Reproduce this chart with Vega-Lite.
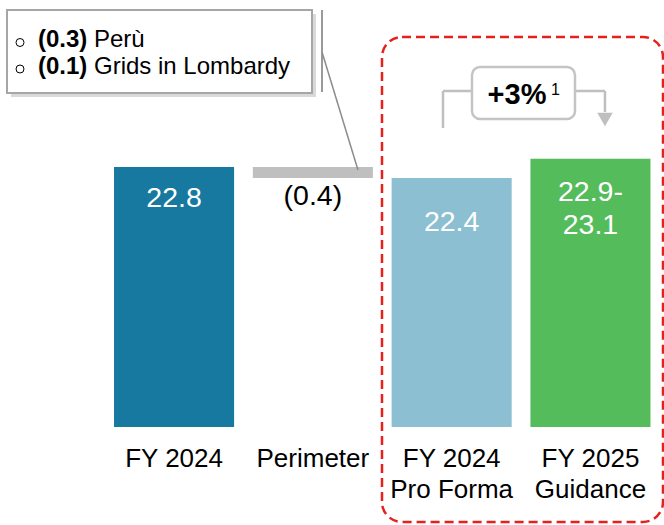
{
  "$schema": "https://vega.github.io/schema/vega-lite/v6.json",
  "width": 664,
  "height": 427,
  "autosize": {"type": "none"},
  "padding": {"left": 0, "right": 0, "top": 0, "bottom": 98},
  "background": "white",
  "config": {"view": {"stroke": null}, "font": "Liberation Sans"},
  "resolve": {"scale": {"x": "independent"}, "axis": {"x": "independent"}},
  "layer": [
    {
      "data": {"values": [
        {"cat": "FY 2024", "value": 22.8, "label": "22.8"},
        {"cat": "Perimeter", "value": 22.8, "end": 22.4, "label": "(0.4)"},
        {"cat": "FY 2024 Pro Forma", "value": 22.4, "label": "22.4"},
        {"cat": "FY 2025 Guidance", "value": 23.1, "low": 22.9, "label": "22.9-\n23.1"}
      ]},
      "encoding": {
        "x": {
          "field": "cat", "type": "nominal", "sort": null,
          "scale": {"domain": ["FY 2024", "Perimeter", "FY 2024 Pro Forma", "FY 2025 Guidance"], "paddingInner": 0.135, "paddingOuter": 0.4595, "align": 0.894},
          "axis": {
            "title": null, "domain": false, "ticks": false, "grid": false,
            "labelAngle": 0, "labelFontSize": 26, "labelColor": "#000000",
            "labelFont": "Liberation Sans", "labelPadding": 39,
            "labelBaseline": "alphabetic", "labelLineHeight": 31,
            "labelLimit": 0, "labelOverlap": false, "labelFlush": false,
            "labelExpr": "length(datum.label) > 9 ? [substring(datum.label, 0, 7), substring(datum.label, 8)] : datum.label"
          }
        }
      },
      "layer": [
        {
          "transform": [{"filter": "datum.end == null"}],
          "mark": {"type": "bar"},
          "encoding": {
            "y": {"field": "value", "type": "quantitative",
                  "scale": {"domain": [13.345, 28.872], "zero": false, "nice": false},
                  "axis": null},
            "y2": {"datum": 13.345},
            "color": {"field": "cat", "type": "nominal", "legend": null,
                      "scale": {"domain": ["FY 2024", "FY 2024 Pro Forma", "FY 2025 Guidance"],
                                "range": ["#1778a0", "#8bbfd1", "#55bc5c"]}}
          }
        },
        {
          "transform": [{"filter": "datum.end != null"}],
          "mark": {"type": "bar", "color": "#bfbfbf"},
          "encoding": {
            "y": {"field": "value", "type": "quantitative", "axis": null},
            "y2": {"field": "end"}
          }
        },
        {
          "transform": [{"filter": "datum.cat == 'FY 2024'"}],
          "mark": {"type": "text", "color": "white", "fontSize": 28.5, "baseline": "alphabetic", "dy": 40},
          "encoding": {"y": {"field": "value", "type": "quantitative", "axis": null}, "text": {"field": "label"}}
        },
        {
          "transform": [{"filter": "datum.cat == 'FY 2024 Pro Forma'"}],
          "mark": {"type": "text", "color": "white", "fontSize": 28.5, "baseline": "alphabetic", "dy": 53},
          "encoding": {"y": {"field": "value", "type": "quantitative", "axis": null}, "text": {"field": "label"}}
        },
        {
          "transform": [{"filter": "datum.cat == 'FY 2025 Guidance'"}],
          "mark": {"type": "text", "color": "white", "fontSize": 28.5, "baseline": "alphabetic", "dy": 42, "lineBreak": "\n", "lineHeight": 33},
          "encoding": {"y": {"field": "value", "type": "quantitative", "axis": null}, "text": {"field": "label"}}
        },
        {
          "transform": [{"filter": "datum.end != null"}],
          "mark": {"type": "text", "color": "black", "fontSize": 28.5, "baseline": "alphabetic", "dy": 27},
          "encoding": {"y": {"field": "end", "type": "quantitative", "axis": null}, "text": {"field": "label"}}
        }
      ]
    },
    {
      "data": {"values": [{}]},
      "layer": [
        {
          "mark": {"type": "rect", "fill": "#000000", "opacity": 0.15},
          "encoding": {
            "x": {"datum": -1.1744, "type": "quantitative", "scale": {"domain": [-1.2536, 3.5303], "nice": false, "zero": false}, "axis": null},
            "x2": {"datum": 1.0231},
            "y": {"datum": 28.363, "type": "quantitative", "axis": null},
            "y2": {"datum": 25.345}
          }
        },
        {
          "mark": {"type": "rect", "fill": "white", "stroke": "#a6a6a6", "strokeWidth": 2},
          "encoding": {
            "x": {"datum": -1.2032, "type": "quantitative", "axis": null},
            "x2": {"datum": 0.9942},
            "y": {"datum": 28.509, "type": "quantitative", "axis": null},
            "y2": {"datum": 25.49}
          }
        },
        {
          "mark": {"type": "point", "shape": "circle", "filled": false, "size": 64, "stroke": "black", "strokeWidth": 1, "opacity": 1},
          "encoding": {
            "x": {"datum": -1.1095, "type": "quantitative", "axis": null},
            "y": {"datum": 27.327, "type": "quantitative", "axis": null}
          }
        },
        {
          "mark": {"type": "point", "shape": "circle", "filled": false, "size": 64, "stroke": "black", "strokeWidth": 1, "opacity": 1},
          "encoding": {
            "x": {"datum": -1.1095, "type": "quantitative", "axis": null},
            "y": {"datum": 26.363, "type": "quantitative", "axis": null}
          }
        },
        {
          "mark": {"type": "text", "text": "(0.3)", "fontWeight": "bold", "fontSize": 24, "align": "left", "baseline": "alphabetic", "color": "black"},
          "encoding": {
            "x": {"datum": -0.9798, "type": "quantitative", "axis": null},
            "y": {"datum": 27.163, "type": "quantitative", "axis": null}
          }
        },
        {
          "mark": {"type": "text", "text": "Perù", "fontSize": 24, "align": "left", "baseline": "alphabetic", "color": "black"},
          "encoding": {
            "x": {"datum": -0.5764, "type": "quantitative", "axis": null},
            "y": {"datum": 27.163, "type": "quantitative", "axis": null}
          }
        },
        {
          "mark": {"type": "text", "text": "(0.1)", "fontWeight": "bold", "fontSize": 24, "align": "left", "baseline": "alphabetic", "color": "black"},
          "encoding": {
            "x": {"datum": -0.9798, "type": "quantitative", "axis": null},
            "y": {"datum": 26.181, "type": "quantitative", "axis": null}
          }
        },
        {
          "mark": {"type": "text", "text": "Grids in Lombardy", "fontSize": 24, "align": "left", "baseline": "alphabetic", "color": "black"},
          "encoding": {
            "x": {"datum": -0.5764, "type": "quantitative", "axis": null},
            "y": {"datum": 26.181, "type": "quantitative", "axis": null}
          }
        },
        {
          "mark": {"type": "rule", "color": "#9a9a9a", "strokeWidth": 2},
          "encoding": {
            "x": {"datum": 1.0663, "type": "quantitative", "axis": null},
            "y": {"datum": 28.509, "type": "quantitative", "axis": null},
            "y2": {"datum": 25.527}
          }
        },
        {
          "mark": {"type": "rule", "color": "#8c8c8c", "strokeWidth": 1.5},
          "encoding": {
            "x": {"datum": 1.0663, "type": "quantitative", "axis": null},
            "x2": {"datum": 1.3256},
            "y": {"datum": 26.981, "type": "quantitative", "axis": null},
            "y2": {"datum": 22.69}
          }
        },
        {
          "mark": {"type": "rect", "fillOpacity": 0, "fill": "white", "stroke": "#e5211d", "strokeWidth": 2.5, "strokeDash": [9, 5], "cornerRadius": 20},
          "encoding": {
            "x": {"datum": 1.4986, "type": "quantitative", "axis": null},
            "x2": {"datum": 3.5231},
            "y": {"datum": 27.527, "type": "quantitative", "axis": null},
            "y2": {"datum": 9.8905}
          }
        },
        {
          "mark": {"type": "rule", "color": "#bfbfbf", "strokeWidth": 2.5},
          "encoding": {
            "x": {"datum": 1.938, "type": "quantitative", "axis": null},
            "y": {"datum": 25.563, "type": "quantitative", "axis": null},
            "y2": {"datum": 24.218}
          }
        },
        {
          "mark": {"type": "rule", "color": "#bfbfbf", "strokeWidth": 2.5},
          "encoding": {
            "x": {"datum": 1.938, "type": "quantitative", "axis": null},
            "x2": {"datum": 2.147},
            "y": {"datum": 25.563, "type": "quantitative", "axis": null}
          }
        },
        {
          "mark": {"type": "rule", "color": "#bfbfbf", "strokeWidth": 2.5},
          "encoding": {
            "x": {"datum": 2.889, "type": "quantitative", "axis": null},
            "x2": {"datum": 3.105},
            "y": {"datum": 25.563, "type": "quantitative", "axis": null}
          }
        },
        {
          "mark": {"type": "rule", "color": "#bfbfbf", "strokeWidth": 2.5},
          "encoding": {
            "x": {"datum": 3.105, "type": "quantitative", "axis": null},
            "y": {"datum": 25.563, "type": "quantitative", "axis": null},
            "y2": {"datum": 24.8}
          }
        },
        {
          "mark": {"type": "point", "shape": "triangle-down", "filled": true, "size": 240, "color": "#bfbfbf", "opacity": 1},
          "encoding": {
            "x": {"datum": 3.105, "type": "quantitative", "axis": null},
            "y": {"datum": 24.527, "type": "quantitative", "axis": null}
          }
        },
        {
          "mark": {"type": "rect", "fill": "white", "stroke": "#c4c4c4", "strokeWidth": 2.5, "cornerRadius": 8},
          "encoding": {
            "x": {"datum": 2.147, "type": "quantitative", "axis": null},
            "x2": {"datum": 2.889},
            "y": {"datum": 26.436, "type": "quantitative", "axis": null},
            "y2": {"datum": 24.545}
          }
        },
        {
          "mark": {"type": "text", "text": "+3%", "fontWeight": "bold", "fontSize": 29, "align": "center", "baseline": "alphabetic", "color": "black"},
          "encoding": {
            "x": {"datum": 2.4712, "type": "quantitative", "axis": null},
            "y": {"datum": 25.09, "type": "quantitative", "axis": null}
          }
        },
        {
          "mark": {"type": "text", "text": "1", "fontSize": 16, "align": "left", "baseline": "alphabetic", "color": "black"},
          "encoding": {
            "x": {"datum": 2.7161, "type": "quantitative", "axis": null},
            "y": {"datum": 25.418, "type": "quantitative", "axis": null}
          }
        }
      ]
    }
  ]
}
